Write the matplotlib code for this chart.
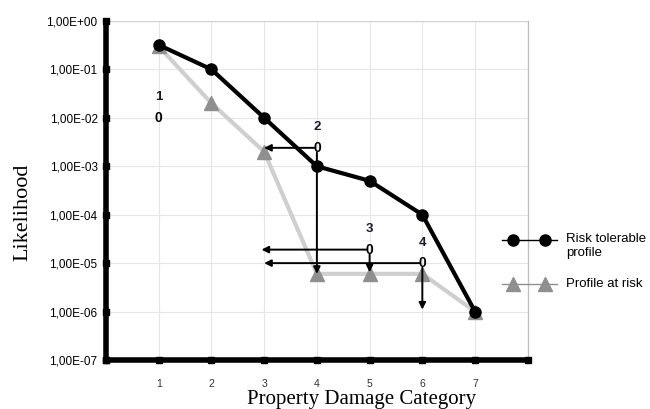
import matplotlib
matplotlib.use("Agg")
import matplotlib.pyplot as plt
from matplotlib.lines import Line2D

# data
categories = [1, 2, 3, 4, 5, 6, 7]
tolerable = [3.2e-1, 1e-1, 1e-2, 1e-3, 5e-4, 1e-4, 1e-6]
at_risk = [3.0e-1, 2e-2, 2e-3, 6e-6, 6e-6, 6e-6, 1e-6]
ytick_vals = [1e0, 1e-1, 1e-2, 1e-3, 1e-4, 1e-5, 1e-6, 1e-7]
ytick_labels = ["1,00E+00", "1,00E-01", "1,00E-02", "1,00E-03",
                "1,00E-04", "1,00E-05", "1,00E-06", "1,00E-07"]
series_names = ["Risk tolerable\nprofile", "Profile at risk"]

# step markers: (label, x, y of "0", left-arrow target x, down-arrow target y)
steps = [
    ("1", 1, 1e-2, None, None),
    ("2", 4, 2.4e-3, 3.0, 6.0e-6),
    ("3", 5, 1.9e-5, 2.95, 6.5e-6),
    ("4", 6, 1.0e-5, 3.0, 1.1e-6),
]

SANS = "Liberation Sans"
SERIF = "Liberation Serif"
W, H = 650, 409

fig = plt.figure(figsize=(6.5, 4.09), dpi=100)
ax = fig.add_axes([0.163, 0.1198, 0.649, 0.829])
ax.set_yscale("log")
ax.set_xlim(0, 8)
ax.set_ylim(1e-7, 1)

# grid
for yv in ytick_vals:
    ax.axhline(yv, color="#e6e6e6", lw=0.8, zorder=0)
for xv in categories + [8]:
    ax.axvline(xv, color="#e6e6e6", lw=0.8, zorder=0)
ax.axvline(8, color="#bdbdbd", lw=0.9, zorder=0, clip_on=False)

ax.plot(categories, at_risk, color="#cfcfcf", lw=3, marker="^", ms=10,
        mfc="#8f8f8f", mec="#8f8f8f", zorder=3)
ax.plot(categories, tolerable, color="black", lw=3, marker="o", ms=8,
        mfc="black", mec="black", zorder=4)

for lab, x, y, xl, yd in steps:
    ax.text(x, y * 2.0, lab, ha="center", va="bottom", fontsize=9.5,
            fontweight="bold", family=SANS, color="#1a1a2e", zorder=6)
    ax.text(x, y, "0", ha="center", va="center", fontsize=10,
            fontweight="bold", family=SANS, zorder=6)
    if xl is not None:
        ax.annotate("", xy=(xl, y), xytext=(x - 0.05, y),
                    arrowprops=dict(arrowstyle="-|>", color="black", lw=1.4,
                                    mutation_scale=10, shrinkA=0, shrinkB=0),
                    zorder=5)
    if yd is not None:
        ax.annotate("", xy=(x, yd), xytext=(x, y / 1.25),
                    arrowprops=dict(arrowstyle="-|>", color="black", lw=1.4,
                                    mutation_scale=10, shrinkA=0, shrinkB=0),
                    zorder=5)

# spines
for s in ["top", "right"]:
    ax.spines[s].set_visible(False)
ax.spines["left"].set_linewidth(4)
ax.spines["bottom"].set_linewidth(4)
ax.axhline(1, color="#d0d0d0", lw=0.9, zorder=0)

ax.set_yticks(ytick_vals)
ax.set_yticklabels(ytick_labels, family=SANS, fontsize=8.5)
ax.yaxis.set_minor_locator(matplotlib.ticker.NullLocator())
ax.set_xticks(categories)
ax.set_xticklabels([str(c) for c in categories], family=SANS, fontsize=7.5,
                   color="#333333")
ax.tick_params(axis="both", length=0, pad=6)
ax.tick_params(axis="x", pad=14)

# square tick marks on the thick spines
ax.plot([0] + categories + [8], [1e-7] * 9, ls="none", marker="s", ms=5,
        color="black", clip_on=False, zorder=7)
ax.plot([0] * 8, ytick_vals, ls="none", marker="s", ms=5, color="black",
        clip_on=False, zorder=7)

ax.set_ylabel("Likelihood", family=SERIF, fontsize=16)
ax.yaxis.set_label_coords(-0.175, 0.437)
ax.set_xlabel("Property Damage Category", family=SERIF, fontsize=15)
ax.xaxis.set_label_coords(0.607, -0.088)

# hand-built legend: the line runs past both markers, like the original
legend_styles = [
    dict(color="black", marker="o", ms=8, mfc="black", mec="black", y=240),
    dict(color="#8f8f8f", marker="^", ms=10, mfc="#8f8f8f", mec="#8f8f8f", y=284),
]
for name, st in zip(series_names, legend_styles):
    yf = 1 - st["y"] / H
    fig.add_artist(Line2D([502 / W, 557 / W], [yf, yf], color=st["color"],
                          lw=1, transform=fig.transFigure))
    fig.add_artist(Line2D([513 / W, 545 / W], [yf, yf], ls="none",
                          marker=st["marker"], ms=st["ms"], mfc=st["mfc"],
                          mec=st["mec"], transform=fig.transFigure))
    ty = yf - (6 / H if "\n" in name else 0)
    fig.text(566 / W, ty, name, ha="left", va="center", family=SANS,
             fontsize=9.5, linespacing=1.15)

fig.savefig("out.png", dpi=100)
